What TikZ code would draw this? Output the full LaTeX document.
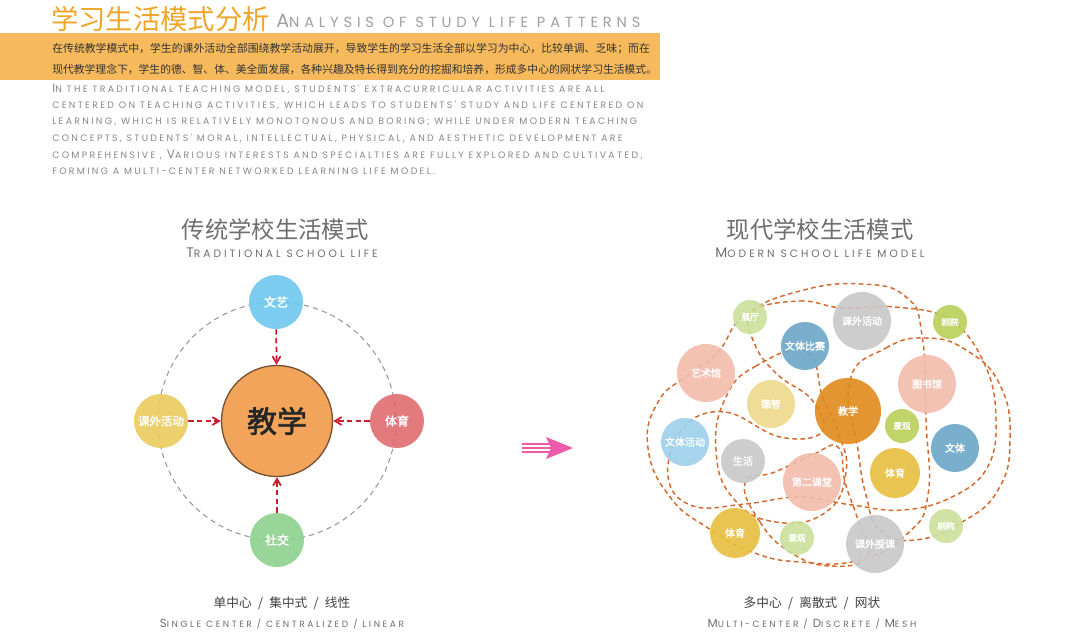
\documentclass[tikz,border=0pt]{standalone}
\usepackage{fontspec}
\usepackage{graphicx}
\usetikzlibrary{arrows}
\newfontfamily\cjk{Noto Sans CJK SC}[AutoFakeBold=2]
\newfontfamily\capfont{Poppins}[LetterSpace=25]
\newfontfamily\capwide{Poppins}[LetterSpace=28]
\newfontfamily\captitle{Poppins}[LetterSpace=33]
\newcommand\capbig[1]{\scalebox{1.3}{#1}}
\newcommand\gap{\hspace{0.5em}}
\definecolor{titleorange}{RGB}{240,165,40}
\definecolor{bandorange}{RGB}{246,185,92}
\definecolor{textgray}{RGB}{135,135,135}
\definecolor{headgray}{RGB}{110,110,110}
\definecolor{arrowred}{RGB}{200,30,45}
\definecolor{meshorange}{RGB}{212,105,45}
\definecolor{c-teach}{RGB}{242,165,90}
\definecolor{c-teachline}{RGB}{120,80,50}
\definecolor{c-blue}{RGB}{110,198,238}
\definecolor{c-yellow}{RGB}{234,203,94}
\definecolor{c-red}{RGB}{224,107,112}
\definecolor{c-green}{RGB}{141,208,142}
\definecolor{c-pink}{RGB}{242,187,171}
\definecolor{c-gray}{RGB}{200,200,200}
\definecolor{c-steel}{RGB}{106,166,200}
\definecolor{c-sky}{RGB}{156,207,234}
\definecolor{c-lime}{RGB}{185,207,90}
\definecolor{c-pale}{RGB}{203,224,154}
\definecolor{c-sand}{RGB}{237,216,140}
\definecolor{c-gold}{RGB}{232,190,62}
\definecolor{c-amber}{RGB}{224,137,28}
\definecolor{c-pink2}{RGB}{238,91,170}
\tikzset{
  rad/.style={minimum size=#1*0.75pt},
  bubble/.style={circle, inner sep=0pt, text=white, fill opacity=0.9, text opacity=1,
    font=\cjk\bfseries\fontsize{7.5}{8}\selectfont},
  smallbubble/.style={bubble, font=\cjk\bfseries\fontsize{6.5}{7}\selectfont},
  orbit/.style={draw=gray!80, dash pattern=on 4pt off 3pt, line width=0.8pt},
  feedarrow/.style={draw=arrowred, dash pattern=on 4pt off 2.5pt, line width=1.3pt, -angle 60},
  meshline/.style={draw=meshorange, dash pattern=on 3.5pt off 2.5pt, line width=1.1pt},
  bodyline/.style={anchor=west, text=textgray, inner sep=0pt, font=\capfont\fontsize{7}{8}\selectfont},
  cjkhead/.style={text=headgray, inner sep=0pt, font=\cjk\fontsize{17.5}{18}\selectfont},
  enhead/.style={text=headgray, inner sep=0pt, font=\capwide\fontsize{8}{9}\selectfont},
  cjkfoot/.style={text=black!75, inner sep=0pt, font=\cjk\fontsize{9.5}{10}\selectfont},
  enfoot/.style={text=headgray, inner sep=0pt, font=\capwide\fontsize{6.8}{7}\selectfont},
}
\begin{document}
\begin{tikzpicture}[x=0.75pt,y=0.75pt,yscale=-1,xscale=1]
\path[use as bounding box] (0,0) rectangle (1080,637);

%Title
\node[anchor=west, inner sep=0pt, text=titleorange, font=\cjk\fontsize{20.5}{21}\selectfont] (title) at (51,19) {学习生活模式分析};
\node[anchor=west, inner sep=0pt, text=textgray!80, font=\captitle\fontsize{11}{12}\selectfont] (titleen) at (276,21) {\capbig{A}NALYSIS OF STUDY LIFE PATTERNS};

%Shape: Rectangle (band)
\fill[bandorange] (0,33) rectangle (660,80);
\node[anchor=west, inner sep=0pt, text=black!80, font=\cjk\fontsize{8.15}{9}\selectfont] (cn1) at (52,49) {在传统教学模式中，学生的课外活动全部围绕教学活动展开，导致学生的学习生活全部以学习为中心，比较单调、乏味；而在};
\node[anchor=west, inner sep=0pt, text=black!80, font=\cjk\fontsize{8.1}{9}\selectfont] (cn2) at (52,69) {现代教学理念下，学生的德、智、体、美全面发展，各种兴趣及特长得到充分的挖掘和培养，形成多中心的网状学习生活模式。};

%English paragraph
\node[bodyline] (en1) at (52,89) {\capbig{I}N THE TRADITIONAL TEACHING MODEL, STUDENTS' EXTRACURRICULAR ACTIVITIES ARE ALL};
\node[bodyline] (en2) at (52,105.5) {CENTERED ON TEACHING ACTIVITIES, WHICH LEADS TO STUDENTS' STUDY AND LIFE CENTERED ON};
\node[bodyline] (en3) at (52,122) {LEARNING, WHICH IS RELATIVELY MONOTONOUS AND BORING; WHILE UNDER MODERN TEACHING};
\node[bodyline] (en4) at (52,138.5) {CONCEPTS, STUDENTS' MORAL, INTELLECTUAL, PHYSICAL, AND AESTHETIC DEVELOPMENT ARE};
\node[bodyline] (en5) at (52,155) {COMPREHENSIVE , \capbig{V}ARIOUS INTERESTS AND SPECIALTIES ARE FULLY EXPLORED AND CULTIVATED,};
\node[bodyline] (en6) at (52,171.5) {FORMING A MULTI-CENTER NETWORKED LEARNING LIFE MODEL.};

%Traditional school life
\node[cjkhead] (lhead) at (275,230) {传统学校生活模式};
\node[enhead] (lheaden) at (282,253) {\capbig{T}RADITIONAL SCHOOL LIFE};

%Shape: Circle (orbit)
\draw[orbit] (277,421) circle (119);

\node[circle, draw=c-teachline, line width=1pt, fill=c-teach, rad=111, inner sep=0pt, font=\cjk\bfseries\fontsize{22.5}{23}\selectfont, text=black!85] (teach) at (277,421) {教学};
\node[bubble, fill=c-blue, rad=54, font=\cjk\bfseries\fontsize{9}{9}\selectfont] (arts) at (276,302) {文艺};
\node[bubble, fill=c-yellow, rad=54, font=\cjk\bfseries\fontsize{8.6}{9}\selectfont] (extra) at (161,421) {课外活动};
\node[bubble, fill=c-red, rad=54, font=\cjk\bfseries\fontsize{9}{9}\selectfont] (sport) at (397,421) {体育};
\node[bubble, fill=c-green, rad=54, font=\cjk\bfseries\fontsize{9}{9}\selectfont] (social) at (277,540) {社交};

%Straight Lines (arrows)
\draw[feedarrow] (arts) -- (teach);
\draw[feedarrow] (extra) -- (teach);
\draw[feedarrow] (sport) -- (teach);
\draw[feedarrow] (social) -- (teach);

\node[cjkfoot] (lfoot) at (282,603) {单中心\gap{}/\gap{}集中式\gap{}/\gap{}线性};
\node[enfoot] (lfooten) at (282,624) {\capbig{S}INGLE CENTER / CENTRALIZED / LINEAR};

%Shape: Arrow (pink)
\draw[c-pink2, line width=1pt] (522,444) -- (552,444) (522,448) -- (552,448) (522,452) -- (552,452);
\fill[c-pink2] (546,437) -- (573,448) -- (546,459) -- (551,448) -- cycle;

%Modern school life model
\node[cjkhead] (rhead) at (820,230) {现代学校生活模式};
\node[enhead] (rheaden) at (820,253) {\capbig{M}ODERN SCHOOL LIFE MODEL};

%Dashed loops
\draw[meshline] plot[smooth cycle, tension=0.8] coordinates {(718,352) (745,315) (800,291) (862,284) (906,297) (922,335) (926,420) (928,495) (908,533) (860,560) (800,562) (752,552) (708,528) (670,497) (648,448) (658,402) (688,375)};
\draw[meshline] plot[smooth cycle, tension=0.7] coordinates {(752,312) (800,301) (842,308) (895,307) (950,320) (985,365) (996,420) (987,468) (952,497) (903,510) (852,505) (800,497) (745,504) (693,506) (668,477) (683,428) (725,412) (780,437) (822,432) (812,400) (778,375) (755,345)};
\draw[meshline] plot[smooth cycle, tension=0.8] coordinates {(850,380) (886,348) (926,338) (966,350) (1000,385) (1010,440) (998,490) (962,522) (915,540) (880,530) (866,495) (858,450)};
\draw[meshline] plot[smooth cycle, tension=0.8] coordinates {(806,352) (756,366) (726,397) (716,450) (733,498) (776,522) (826,512) (846,472) (838,432) (823,398)};
\draw[meshline] plot[smooth cycle, tension=0.8] coordinates {(745,483) (760,522) (790,552) (830,566) (868,556) (858,520) (845,482) (838,447) (812,455) (775,472)};

%Shape: Circles
\node[smallbubble, fill=c-pale, rad=34] (hall) at (750,317) {展厅};
\node[bubble, fill=c-gray, rad=58] (extraA) at (862,321) {课外活动};
\node[smallbubble, fill=c-lime, rad=34] (theatreA) at (950,322) {剧院};
\node[bubble, fill=c-steel, rad=48] (contest) at (805,346) {文体比赛};
\node[bubble, fill=c-pink, rad=58] (artmus) at (706,373) {艺术馆};
\node[bubble, fill=c-pink, rad=58] (library) at (927,384) {图书馆};
\node[bubble, fill=c-sand, rad=48] (moral) at (771,404) {德智};
\node[bubble, fill=c-amber, rad=66] (teachB) at (848,411) {教学};
\node[smallbubble, fill=c-lime, rad=34] (viewA) at (902,426) {景观};
\node[bubble, fill=c-steel, rad=48] (culture) at (955,448) {文体};
\node[bubble, fill=c-sky, rad=48] (actB) at (685,442) {文体活动};
\node[bubble, fill=c-gray, rad=44] (life) at (743,461) {生活};
\node[bubble, fill=c-pink, rad=58] (second) at (812,482) {第二课堂};
\node[bubble, fill=c-gold, rad=50] (sportA) at (895,473) {体育};
\node[bubble, fill=c-gold, rad=50] (sportB) at (735,533) {体育};
\node[smallbubble, fill=c-pale, rad=34] (viewB) at (797,538) {景观};
\node[bubble, fill=c-gray, rad=58] (lesson) at (875,544) {课外授课};
\node[smallbubble, fill=c-pale, rad=34] (theatreB) at (946,526) {剧院};

\node[cjkfoot] (rfoot) at (812,603) {多中心\gap{}/\gap{}离散式\gap{}/\gap{}网状};
\node[enfoot] (rfooten) at (812,624) {\capbig{M}ULTI-CENTER / \capbig{D}ISCRETE / \capbig{M}ESH};

\end{tikzpicture}
\end{document}
